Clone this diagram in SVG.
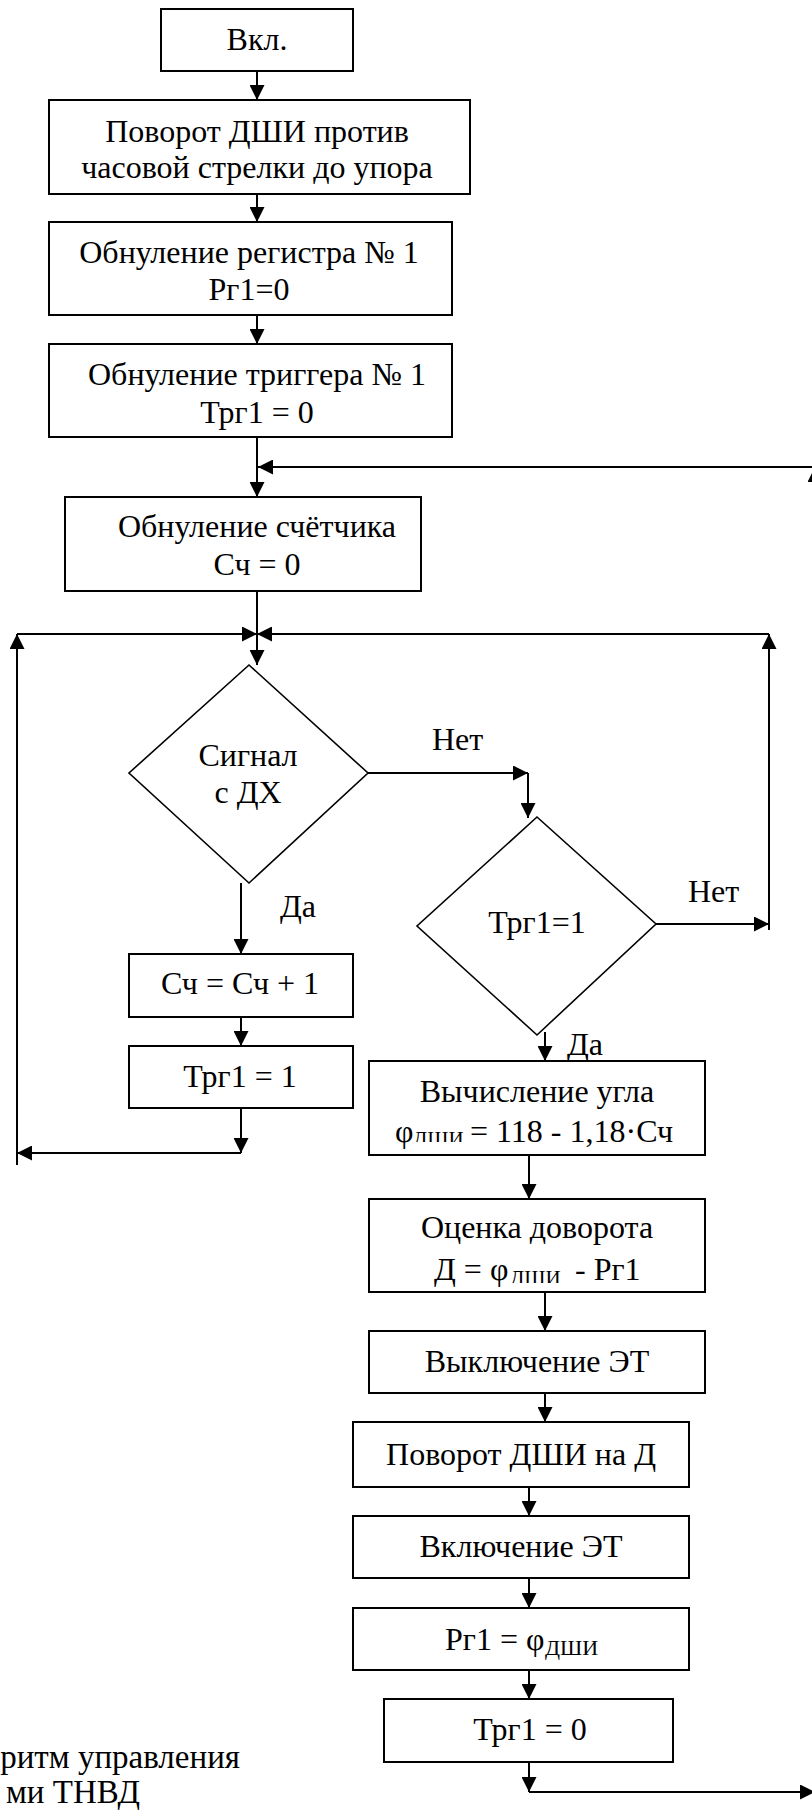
<svg xmlns="http://www.w3.org/2000/svg" width="812" height="1820" viewBox="0 0 812 1820">
<style>
.b{fill:#fff;stroke:#000;stroke-width:2}
.d{fill:#fff;stroke:#000;stroke-width:1.6}
.t{font-family:"Liberation Serif","Times New Roman",serif;font-size:32px;fill:#000;text-anchor:middle}
.l{font-family:"Liberation Serif","Times New Roman",serif;font-size:32px;fill:#000}
.s{font-family:"Liberation Serif","Times New Roman",serif;font-size:21px;fill:#000}
.c{fill:none;stroke:#000;stroke-width:2}
.a{fill:none;stroke:#000;stroke-width:2;marker-end:url(#ah)}
</style>
<defs>
<marker id="ah" markerUnits="userSpaceOnUse" markerWidth="15" markerHeight="15" refX="15" refY="7.5" orient="auto">
<path d="M0,0 L15,7.5 L0,15 z" fill="#000"/>
</marker>
<clipPath id="c1"><rect x="380" y="1100" width="120" height="42"/></clipPath>
<clipPath id="c2"><rect x="480" y="1240" width="120" height="43"/></clipPath>
</defs>
<rect width="812" height="1820" fill="#fff"/>
<g id="connectors">
<path class="a" d="M257,71 V100"/>
<path class="a" d="M257,194 V222"/>
<path class="a" d="M257,315 V344"/>
<path class="a" d="M257,437 V497"/>
<path class="a" d="M815,467 H258"/>
<path class="a" d="M815,560 V467"/>
<path class="a" d="M257,591 V665"/>
<path class="a" d="M17,634 H257"/>
<path class="a" d="M769,634 H257"/>
<path class="a" d="M17,1165 V634"/>
<path class="a" d="M769,930 V634"/>
<path class="a" d="M368,773 H528"/>
<path class="a" d="M528,773 V818"/>
<path class="a" d="M656,924 H769"/>
<path class="a" d="M241,883 V954"/>
<path class="a" d="M241,1017 V1046"/>
<path class="a" d="M241,1108 V1153"/>
<path class="a" d="M241,1153 H17"/>
<path class="a" d="M545,1032 V1061"/>
<path class="a" d="M529,1155 V1199"/>
<path class="a" d="M545,1292 V1331"/>
<path class="a" d="M545,1393 V1422"/>
<path class="a" d="M529,1487 V1516"/>
<path class="a" d="M529,1578 V1608"/>
<path class="a" d="M529,1670 V1699"/>
<path class="a" d="M529,1762 V1792"/>
<path class="a" d="M529,1792 H815"/>
</g>
<g id="n1"><rect class="b" x="161" y="9" width="192" height="62"/><text class="t" x="257" y="50">Вкл.</text></g>
<g id="n2"><rect class="b" x="49" y="100" width="421" height="94"/><text class="t" x="257" y="142">Поворот ДШИ против</text><text class="t" x="257" y="178">часовой стрелки до упора</text></g>
<g id="n3"><rect class="b" x="49" y="222" width="403" height="93"/><text class="t" x="249" y="263">Обнуление регистра № 1</text><text class="t" x="249" y="300">Рг1=0</text></g>
<g id="n4"><rect class="b" x="49" y="344" width="403" height="93"/><text class="t" x="257" y="385">Обнуление триггера № 1</text><text class="t" x="257" y="423">Трг1 = 0</text></g>
<g id="n5"><rect class="b" x="65" y="497" width="356" height="94"/><text class="t" x="257" y="537">Обнуление счётчика</text><text class="t" x="257" y="575">Сч = 0</text></g>
<g id="d1"><path class="d" d="M249,665 L368,773 L249,883 L129,773 z"/><text class="t" x="248" y="766">Сигнал</text><text class="t" x="248" y="803">с ДХ</text></g>
<g id="d2"><path class="d" d="M537,817 L656,924 L537,1035 L417,926 z"/><text class="t" x="537" y="933">Трг1=1</text></g>
<g id="labels">
<text class="l" x="280" y="917">Да</text>
<text class="l" x="432" y="750">Нет</text>
<text class="l" x="688" y="902">Нет</text>
<text class="l" x="567" y="1055">Да</text>
</g>
<g id="n6"><rect class="b" x="129" y="954" width="224" height="63"/><text class="t" x="240" y="994">Сч = Сч + 1</text></g>
<g id="n7"><rect class="b" x="129" y="1046" width="224" height="62"/><text class="t" x="240" y="1087">Трг1 = 1</text></g>
<g id="n8"><rect class="b" x="369" y="1061" width="336" height="94"/><text class="t" x="537" y="1102">Вычисление угла</text>
<text class="l" x="395" y="1142">φ</text><text class="s" x="413" y="1146" clip-path="url(#c1)">ДШИ</text><text class="l" x="470" y="1142">= 118 - 1,18·Сч</text></g>
<g id="n9"><rect class="b" x="369" y="1199" width="336" height="93"/><text class="t" x="537" y="1238">Оценка доворота</text>
<text class="l" x="434" y="1280">Д = φ</text><text class="s" x="510" y="1285" clip-path="url(#c2)">ДШИ</text><text class="l" x="575" y="1280">- Рг1</text></g>
<g id="n10"><rect class="b" x="369" y="1331" width="336" height="62"/><text class="t" x="537" y="1372">Выключение ЭТ</text></g>
<g id="n11"><rect class="b" x="353" y="1422" width="336" height="65"/><text class="t" x="521" y="1465">Поворот ДШИ на Д</text></g>
<g id="n12"><rect class="b" x="353" y="1516" width="336" height="62"/><text class="t" x="521" y="1557">Включение ЭТ</text></g>
<g id="n13"><rect class="b" x="353" y="1608" width="336" height="62"/><text class="l" x="445" y="1650">Рг1 = φ</text><text class="s" x="545" y="1655" style="font-size:22px">ДШИ</text></g>
<g id="n14"><rect class="b" x="384" y="1699" width="289" height="63"/><text class="t" x="530" y="1740">Трг1 = 0</text></g>
<g id="caption">
<text class="l" x="240" y="1768" text-anchor="end" style="font-size:33px">ритм управления</text>
<text class="l" x="140" y="1803" text-anchor="end" style="font-size:33px">ми ТНВД</text>
</g>
</svg>
